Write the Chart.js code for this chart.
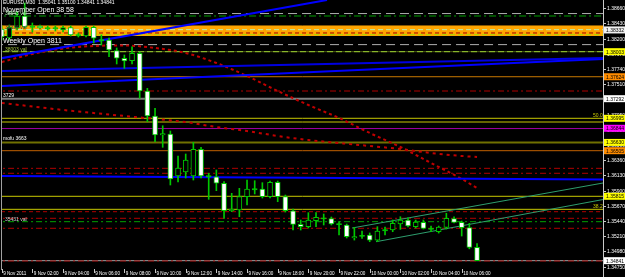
<!DOCTYPE html>
<html><head><meta charset="utf-8">
<script src="https://cdn.jsdelivr.net/npm/chart.js@4.4.1/dist/chart.umd.min.js"></script>
<style>html,body{margin:0;padding:0;background:#000;overflow:hidden}#wrap{width:625px;height:277px;position:relative}</style>
</head><body><div id="wrap"><canvas id="c" width="625" height="277"></canvas></div>
<script>
// ---------- DATA ----------
const symbolTitle = 'EURUSD,M30  1.35041 1.35100 1.34841 1.34841';
const barIndex = Array.from({length: 63}, (_, i) => i); // M30 bars from 9 Nov 2011 00:00
const opens = [
 1.38346,1.38210,1.38361,1.38543,1.38377,1.38384,1.38354,1.38354,1.38331,1.38369,
 1.38248,1.38240,1.38372,1.38172,1.38180,1.38018,1.37903,1.37867,1.37979,1.37408,
 1.37030,1.36742,1.36757,1.36122,1.36182,1.36122,1.36526,1.36114,1.36111,1.36012,
 1.35597,1.35607,1.35809,1.35918,1.35925,1.35809,1.36027,1.35809,1.35597,1.35391,
 1.35355,1.35446,1.35479,1.35479,1.35391,1.35381,1.35188,1.35214,1.35229,1.35153,
 1.35297,1.35305,1.35396,1.35456,1.35355,1.35421,1.35320,1.35279,1.35346,1.35476,
 1.35421,1.35340,1.35041];
const highs = [
 1.38392,1.38407,1.38603,1.38740,1.38437,1.38407,1.38392,1.38392,1.38392,1.38392,
 1.38285,1.38392,1.38392,1.38255,1.38210,1.38059,1.37953,1.38078,1.37998,1.37449,
 1.37146,1.36883,1.36803,1.36425,1.36455,1.36632,1.36556,1.36163,1.36213,1.36036,
 1.35860,1.35936,1.36061,1.36051,1.36021,1.36046,1.36046,1.35834,1.35623,1.35456,
 1.35567,1.35567,1.35547,1.35502,1.35431,1.35396,1.35346,1.35290,1.35260,1.35355,
 1.35350,1.35456,1.35506,1.35491,1.35456,1.35456,1.35365,1.35365,1.35558,1.35506,
 1.35441,1.35406,1.35100];
const lows = [
 1.38180,1.38180,1.38331,1.38361,1.38301,1.38346,1.38331,1.38316,1.38301,1.38240,
 1.38225,1.38225,1.38134,1.38104,1.37927,1.37817,1.37752,1.37817,1.37298,1.36944,
 1.36641,1.36556,1.35986,1.36031,1.36092,1.36061,1.36092,1.35769,1.35900,1.35482,
 1.35582,1.35506,1.35683,1.35850,1.35789,1.35789,1.35733,1.35577,1.35305,1.35305,
 1.35335,1.35355,1.35381,1.35381,1.35229,1.35184,1.35153,1.35179,1.35128,1.35128,
 1.35229,1.35279,1.35315,1.35350,1.35335,1.35320,1.35279,1.35259,1.35320,1.35411,
 1.35214,1.35020,1.34841];
const closes = [
 1.38225,1.38377,1.38543,1.38377,1.38384,1.38369,1.38361,1.38361,1.38369,1.38255,
 1.38255,1.38372,1.38206,1.38180,1.38028,1.37903,1.37862,1.37979,1.37408,1.37030,
 1.36742,1.36765,1.36077,1.36243,1.36364,1.36526,1.36122,1.36122,1.36012,1.35597,
 1.35618,1.35809,1.35925,1.35925,1.35809,1.36027,1.35809,1.35597,1.35391,1.35355,
 1.35456,1.35497,1.35482,1.35396,1.35396,1.35204,1.35204,1.35219,1.35153,1.35290,
 1.35305,1.35406,1.35456,1.35365,1.35426,1.35330,1.35325,1.35350,1.35482,1.35421,
 1.35340,1.35041,1.34841];

const timeTickBars = [0,4,8,12,16,20,24,28,32,36,40,44,48,52,56,60];
const timeTickLabels = ['9 Nov 2011','9 Nov 02:00','9 Nov 04:00','9 Nov 06:00','9 Nov 08:00','9 Nov 10:00',
 '9 Nov 12:00','9 Nov 14:00','9 Nov 16:00','9 Nov 18:00','9 Nov 20:00','9 Nov 22:00',
 '10 Nov 00:00','10 Nov 02:00','10 Nov 04:00','10 Nov 06:00'];
const priceTicks = [1.34750,1.34980,1.35210,1.35440,1.35670,1.35900,1.36130,1.36360,1.36590,
 1.36820,1.37050,1.37280,1.37510,1.37740,1.37970,1.38200,1.38430,1.38660];

// horizontal level prices
const levelPrices = [1.38580,1.38543,1.38336,1.38286,1.38260,1.38110,1.38003,1.37624,1.37408,1.37290,
 1.36995,1.36939,1.36840,1.36630,1.36505,1.36238,1.36163,1.35815,1.35618,1.35582,1.35482,1.35431,1.35331,1.34836,1.34841];
const bandTop = 1.38392, bandBottom = 1.38240;
// price boxes on the axis
const boxPrices = [1.38332,1.38003,1.37624,1.37292,1.36995,1.36844,1.36630,1.36505,1.35815,1.34841];
// trend lines: [bar1, price1, bar2, price2]
const blueTop   = [-0.22, 1.37900, 42.43, 1.38785];
const blueMid   = [-0.22, 1.37711, 78.43, 1.37907];
const blueLow   = [-0.22, 1.37484, 78.43, 1.37892];
const blueFlat  = [-0.22, 1.36122, 78.43, 1.36069];
const chanUpper = [45.69, 1.35335, 78.43, 1.36016];
const chanLower = [48.82, 1.35128, 78.43, 1.35766];
// moving averages (read at sampled bars)
const maBars  = [0,4,8,12,16,20,24,28,32,36,40,44,48,52,56,60,62];
const ma1Vals = [1.37847,1.37968,1.38051,1.38089,1.38097,1.38059,1.37983,1.37832,1.37635,1.37408,1.37196,1.37000,1.36773,1.36561,1.36319,1.36077,1.35940];
const ma2Vals = [1.37227,1.37174,1.37121,1.37075,1.37030,1.36985,1.36939,1.36863,1.36803,1.36727,1.36667,1.36621,1.36576,1.36530,1.36470,1.36425,1.36409];
// text objects attached to levels
const levelTexts = ['November Open 38 58','Weekly Open 3811','3729','mofu 3663'];
const levelTextPrices = [1.3858,1.3811,1.3729,1.3663];
const valTexts = ['38543 val','38336 val','38003 val','35431 val'];
const valTextPrices = [1.38543,1.38336,1.38003,1.35431];

// ---------- STYLES ----------
const GREEN = '#00c800';
const levelStyles = [
 {c:'#b0b0b0', w:1, d:[9,5]},
 {c:'#00a000', w:1, d:[7,3,2,3]},
 {c:'#b8f0b8', w:1, d:[5,3]},
 {c:'#a00000', w:1, d:[4,3]},
 {c:'#a0e000', w:1, d:[5,3]},
 {c:'#b0b0b0', w:1, d:[9,5]},
 {c:'#9acd32', w:1, d:[6,3]},
 {c:'#c87800', w:1, d:[]},
 {c:'#b00000', w:1, d:[6,3,2,3]},
 {c:'#808080', w:2, d:[]},
 {c:'#c8c800', w:1, d:[]},
 {c:'#c8c800', w:1, d:[]},
 {c:'#a000a0', w:1, d:[]},
 {c:'#707000', w:2, d:[]},
 {c:'#c06000', w:1, d:[]},
 {c:'#b00000', w:1, d:[6,3,2,3]},
 {c:'#b00000', w:1, d:[6,3,2,3]},
 {c:'#c8c800', w:1, d:[]},
 {c:'#c8c800', w:1, d:[]},
 {c:'#b00000', w:1, d:[4,3]},
 {c:'#b00000', w:1, d:[6,3,2,3]},
 {c:'#00a000', w:1, d:[6,3,2,3]},
 {c:'#b00000', w:1, d:[6,3,2,3]},
 {c:'#a00000', w:1, d:[6,3,2,3]},
 {c:'#a0a0a0', w:1, d:[]}
];
const boxColors = ['#f0f0f0','#ffff00','#ff8c00','#ffffff','#ffff00','#ff00ff','#ffff00','#ff8c00','#ffff00','#ffffff'];
const valColors = ['#b0f0b0','#404040','#a0c040','#d0d0d0'];

const X_MIN = 0.039, X_MAX = 78.43, Y_MIN = 1.34715, Y_MAX = 1.38785;

function seg(a, color, width, dash) {
  return {type:'line', data:[{x:a[0], y:a[1]}, {x:a[2], y:a[3]}], borderColor:color, borderWidth:width,
    borderDash:dash||[], pointRadius:0, fill:false, order:3};
}

const datasets = [];
const pxPrice = (Y_MAX - Y_MIN) / 269;
// candle bodies
datasets.push({
  type:'bar', order:0, grouped:false, barThickness:5, borderWidth:1, borderSkipped:false,
  borderColor:GREEN,
  backgroundColor: barIndex.map(i => Math.abs(closes[i]-opens[i]) < 0.8*pxPrice ? GREEN : (closes[i] > opens[i] ? '#000000' : '#ffffff')),
  data: barIndex.map(i => {
    let a = opens[i], b = closes[i];
    if (Math.abs(a-b) < 1.2*pxPrice) { const m = (a+b)/2; a = m - 0.6*pxPrice; b = m + 0.6*pxPrice; }
    return {x:i, y:[a,b]};
  })
});
// wicks
datasets.push({
  type:'bar', order:1, grouped:false, barThickness:1, borderWidth:0, backgroundColor:GREEN,
  data: barIndex.map(i => ({x:i, y:[lows[i], highs[i]]}))
});
// orange band
datasets.push({type:'line', order:9, data:[{x:-1,y:bandTop},{x:80,y:bandTop}], borderColor:'#ffa500', borderWidth:1,
  pointRadius:0, fill:{value:bandBottom}, backgroundColor:'#ffa500'});
// levels
levelPrices.forEach((p, k) => {
  const s = levelStyles[k];
  datasets.push({type:'line', order:5, data:[{x:-1,y:p},{x:80,y:p}], borderColor:s.c, borderWidth:s.w,
    borderDash:s.d, pointRadius:0, fill:false});
});
datasets.push({type:'line', order:6, data:[{x:-1,y:levelPrices[6]},{x:80,y:levelPrices[6]}], borderColor:'#4a5a10', borderWidth:1, pointRadius:0, fill:false});
// trend lines
datasets.push(seg(blueTop, '#0000ff', 2));
datasets.push(seg(blueMid, '#0000e0', 2));
datasets.push(seg(blueLow, '#0000ff', 2));
datasets.push(seg(blueFlat, '#0000ff', 2));
datasets.push(seg(chanUpper, '#2e9e6e', 1));
datasets.push(seg(chanLower, '#2e9e6e', 1));
// moving averages
datasets.push({type:'line', order:4, data: maBars.map((b,k)=>({x:b, y:ma1Vals[k]})), borderColor:'#c00000', borderWidth:2,
  borderDash:[3,3], pointRadius:0, tension:0.4, cubicInterpolationMode:'monotone', fill:false});
datasets.push({type:'line', order:4, data: maBars.map((b,k)=>({x:b, y:ma2Vals[k]})), borderColor:'#c00000', borderWidth:2,
  borderDash:[3,4], pointRadius:0, tension:0.4, cubicInterpolationMode:'monotone', fill:false});

const FONT = "'Liberation Sans', Arial, sans-serif";
const overlay = {
  id:'overlay',
  beforeDraw(chart){ const c = chart.ctx; c.save(); c.fillStyle='#000'; c.fillRect(0,0,chart.width,chart.height); c.restore(); },
  afterDraw(chart){
    const ctx = chart.ctx, xs = chart.scales.x, ys = chart.scales.y;
    ctx.save();
    ctx.strokeStyle = '#a0a0a0'; ctx.lineWidth = 1;
    ctx.beginPath(); ctx.moveTo(1.5, 0); ctx.lineTo(1.5, 270); ctx.stroke();
    ctx.strokeStyle = '#c8c8c8';
    ctx.beginPath(); ctx.moveTo(603.5, 0); ctx.lineTo(603.5, 277); ctx.stroke();
    ctx.font = '5px ' + FONT; ctx.textBaseline = 'middle'; ctx.textAlign = 'left';
    priceTicks.forEach(p => {
      const y = ys.getPixelForValue(p);
      ctx.fillStyle = '#c8c8c8'; ctx.fillRect(603, Math.round(y), 3, 1);
      ctx.fillStyle = '#ffffff'; ctx.fillText(p.toFixed(5), 607, y + 0.5);
    });
    boxPrices.forEach((p, k) => {
      const y = ys.getPixelForValue(p);
      ctx.fillStyle = boxColors[k]; ctx.fillRect(604, y - 3.5, 21, 7);
      ctx.fillStyle = '#000'; ctx.fillText(p.toFixed(5), 606, y + 0.5);
    });
    ctx.font = '4.6px ' + FONT;
    timeTickBars.forEach((b, k) => {
      const x = xs.getPixelForValue(b);
      ctx.fillStyle = '#c8c8c8'; ctx.fillRect(Math.round(x), 269, 1, 4);
      ctx.fillStyle = '#ffffff'; ctx.fillText(timeTickLabels[k], x + 1.5, 273.5);
    });
    ctx.fillStyle = '#ffffff'; ctx.font = '5px ' + FONT;
    ctx.fillText(symbolTitle, 3, 3);
    ctx.textBaseline = 'alphabetic';
    levelTexts.forEach((t, k) => {
      const y = ys.getPixelForValue(levelTextPrices[k]);
      ctx.font = (k < 2 ? '7px ' : '5px ') + FONT;
      ctx.fillStyle = '#ffffff';
      ctx.fillText(t, 3, y - 2);
    });
    ctx.font = '5px ' + FONT;
    valTexts.forEach((t, k) => {
      const y = ys.getPixelForValue(valTextPrices[k]);
      ctx.fillStyle = valColors[k];
      ctx.fillText(t, 5, y - 1);
    });
    ctx.fillStyle = '#c8c800';
    ctx.fillText('50.0', 593, ys.getPixelForValue(levelPrices[10]) - 1);
    ctx.fillText('38.2', 593, ys.getPixelForValue(levelPrices[18]) - 1);
    ctx.restore();
  }
};

new Chart(document.getElementById('c'), {
  type:'bar',
  data:{datasets},
  options:{
    responsive:false, animation:false, devicePixelRatio:1, events:[],
    layout:{padding:{left:2, right:22, top:0, bottom:8}},
    plugins:{legend:{display:false}, tooltip:{enabled:false}},
    scales:{
      x:{type:'linear', min:X_MIN, max:X_MAX, display:false, offset:false},
      y:{type:'linear', min:Y_MIN, max:Y_MAX, display:false}
    }
  },
  plugins:[overlay]
});
</script></body></html>
